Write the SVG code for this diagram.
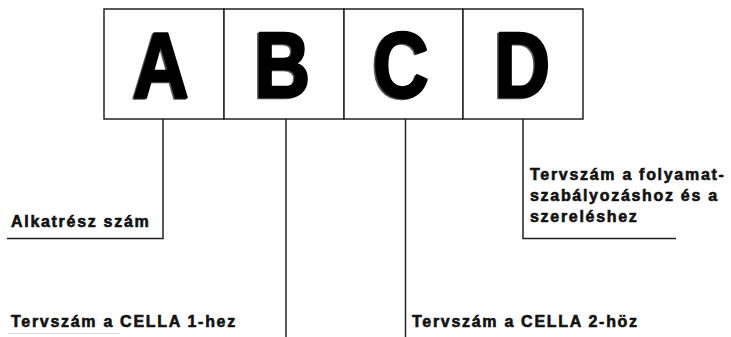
<svg xmlns="http://www.w3.org/2000/svg" width="731" height="337" viewBox="0 0 731 337">
<style>
.box{fill:#fff;stroke:#222;stroke-width:1.5}
.big{font-family:"Liberation Sans",Arial,sans-serif;font-weight:bold;font-size:92px;text-anchor:middle;stroke-width:2.5px;stroke-linejoin:round}
.sh{fill:#555;stroke:#555}
.fg{fill:#000;stroke:#000}
.lbl{font-family:"Liberation Sans",Arial,sans-serif;font-weight:bold;font-size:16px;letter-spacing:1.7px;fill:#111;stroke:#111;stroke-width:0.6px}
.conn{fill:none;stroke:#222;stroke-width:1.5}
</style>
<rect width="731" height="337" fill="#fff"/>
<g id="boxA">
<rect class="box" x="104" y="9" width="120" height="110"/>
<text class="big sh" transform="translate(159.5,98) scale(0.84,1)">A</text>
<text class="big fg" transform="translate(161,97) scale(0.84,1)">A</text>
</g>
<g id="boxB">
<rect class="box" x="224" y="9" width="120" height="110"/>
<text class="big sh" transform="translate(281,98) scale(0.84,1)">B</text>
<text class="big fg" transform="translate(282.5,97) scale(0.84,1)">B</text>
</g>
<g id="boxC">
<rect class="box" x="344" y="9" width="119" height="110"/>
<text class="big sh" transform="translate(399.5,98) scale(0.84,1)">C</text>
<text class="big fg" transform="translate(401,97) scale(0.84,1)">C</text>
</g>
<g id="boxD">
<rect class="box" x="463" y="9" width="120" height="110"/>
<text class="big sh" transform="translate(521,98) scale(0.84,1)">D</text>
<text class="big fg" transform="translate(522.5,97) scale(0.84,1)">D</text>
</g>
<g id="connectors">
<polyline class="conn" points="163,119 163,238.5 7,238.5"/>
<line class="conn" x1="286" y1="119" x2="286" y2="337"/>
<line class="conn" x1="405.5" y1="119" x2="405.5" y2="337"/>
<polyline class="conn" points="523,119 523,238.5 676,238.5"/>
<line x1="8" y1="333.5" x2="120" y2="333.5" stroke="#ddd" stroke-width="1"/>
</g>
<g id="labelA">
<text class="lbl" x="11" y="227">Alkatrész szám</text>
</g>
<g id="labelB">
<text class="lbl" x="11" y="327">Tervszám a CELLA 1-hez</text>
</g>
<g id="labelC">
<text class="lbl" x="412" y="327">Tervszám a CELLA 2-höz</text>
</g>
<g id="labelD">
<text class="lbl" x="530" y="180">Tervszám a folyamat-</text>
<text class="lbl" x="530" y="201">szabályozáshoz és a</text>
<text class="lbl" x="530" y="222">szereléshez</text>
</g>
</svg>
